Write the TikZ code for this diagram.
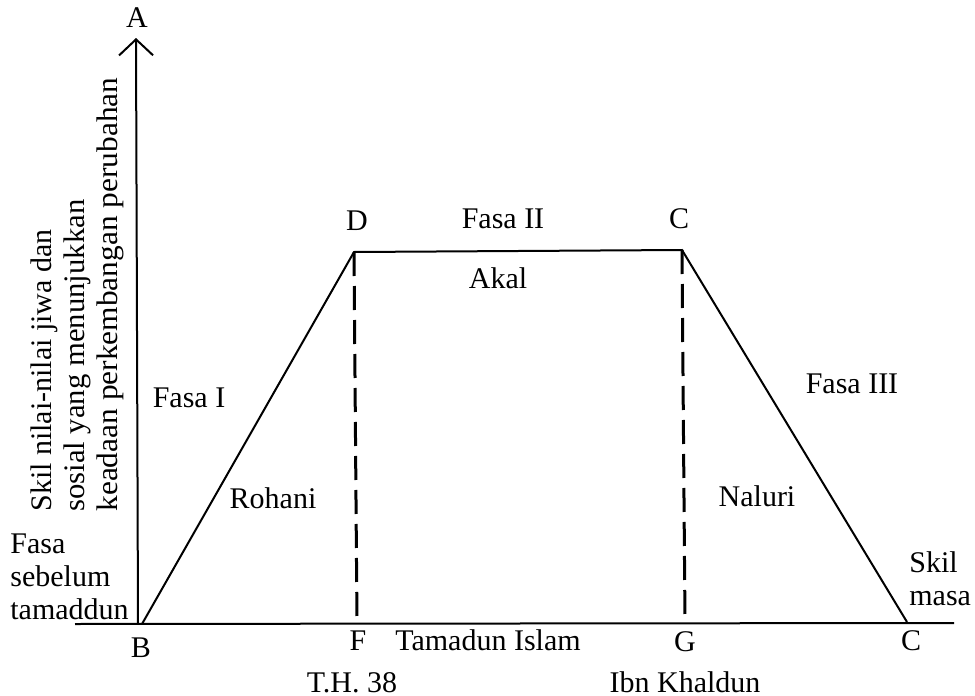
\documentclass[tikz,border=0pt]{standalone}
\usepackage{fontspec}
\usepackage{graphicx}
\setmainfont{Liberation Serif}
\usetikzlibrary{arrows.meta}
\begin{document}
\begin{tikzpicture}[x=0.5pt,y=-0.5pt,
  lbl/.style={font=\fontsize{15}{16.5}\selectfont, inner sep=0pt, anchor=base},
  ln/.style={line width=1pt},
  dsh/.style={line width=1.5pt, dash pattern=on 12pt off 5pt}]
\useasboundingbox (0,0) rectangle (975,696);
\coordinate (O) at (138,624);
\coordinate (A) at (136,38);
\coordinate (Xl) at (75,624);
\coordinate (Xr) at (954,623);
\coordinate (B) at (142,624);
\coordinate (D) at (354,252);
\coordinate (C1) at (682,250);
\coordinate (C2) at (907,622);
\coordinate (F) at (357,624);
\coordinate (G) at (685,623);
\draw[ln] (Xl) -- (Xr);
\draw[ln, -{Straight Barb[length=8pt,width=17pt,line width=1pt]}] (O) -- (A);
\draw[ln] (B) -- (D) -- (C1) -- (C2);
\draw[dsh] (D) -- (F);
\draw[dsh] (C1) -- (G);
\node[lbl] (lA) at (137,27) {A};
\node[lbl] (lD) at (357,230) {D};
\node[lbl] (lF2) at (503,228) {Fasa II};
\node[lbl] (lC1) at (679,228) {C};
\node[lbl] (lAk) at (498,288) {Akal};
\node[lbl] (lF1) at (189,407) {Fasa I};
\node[lbl] (lRo) at (273,508) {Rohani};
\node[lbl] (lNa) at (757,506) {Naluri};
\node[lbl] (lF3) at (852,393) {Fasa III};
\node[lbl, align=left, anchor=base west] (lPre) at (10,619) {Fasa\\sebelum\\tamaddun};
\node[lbl, align=left, anchor=base west] (lSk) at (909,605) {Skil\\masa};
\node[lbl] (lB) at (141,657) {B};
\node[lbl] (lF) at (358,650) {F};
\node[lbl] (lTI) at (488,650) {Tamadun Islam};
\node[lbl] (lG) at (685,651) {G};
\node[lbl] (lC2) at (911,650) {C};
\node[lbl] (lTH) at (352,692) {T.H. 38};
\node[lbl] (lIK) at (685,692) {Ibn Khaldun};
\node[inner sep=0pt, align=left, rotate=90, anchor=north west, font=\fontsize{14.9}{16.5}\selectfont] (lY) at (30,512)
  {\resizebox{141pt}{\height}{Skil nilai-nilai jiwa dan}\\
   \resizebox{156pt}{\height}{sosial yang menunjukkan}\\
   \resizebox{217pt}{\height}{keadaan perkembangan perubahan}};
\end{tikzpicture}
\end{document}
